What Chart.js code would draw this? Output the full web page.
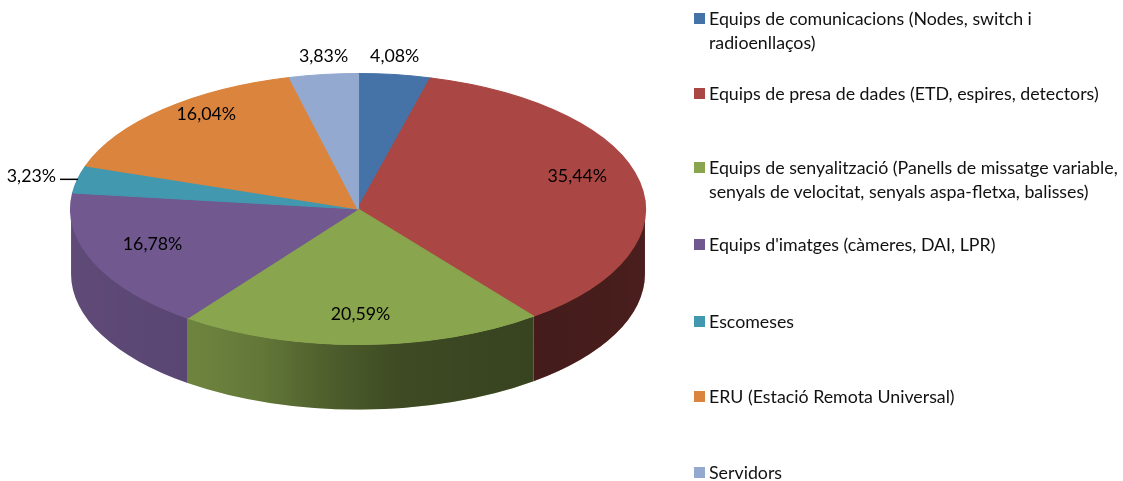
<!DOCTYPE html>
<html>
<head>
<meta charset="utf-8">
<script src="https://cdn.jsdelivr.net/npm/chart.js@4.4.1/dist/chart.umd.min.js"></script>
<style>
  html, body { margin: 0; padding: 0; background: #fff; }
  #wrap { position: relative; width: 1123px; height: 481px; overflow: hidden; }
  #legend { position: absolute; left: 0; top: 0; font-family: Lato, "Open Sans", sans-serif; font-size: 17.8px; color: #111; }
  .item { position: absolute; left: 694px; line-height: 24px; white-space: nowrap; }
  .sw { position: absolute; left: 0; top: 7px; width: 11px; height: 11px; }
  .txt { margin-left: 15px; }
</style>
</head>
<body>
<div id="wrap">
  <canvas id="pie" width="1123" height="481"></canvas>
  <div id="legend"></div>
</div>
<script>
// Categories of equipment (each entry is the list of legend lines)
const categories = [
  ['Equips de comunicacions (Nodes, switch i', 'radioenllaços)'],
  ['Equips de presa de dades (ETD, espires, detectors)'],
  ['Equips de senyalització (Panells de missatge variable,', 'senyals de velocitat, senyals aspa-fletxa, balisses)'],
  ["Equips d'imatges (càmeres, DAI, LPR)"],
  ['Escomeses'],
  ['ERU (Estació Remota Universal)'],
  ['Servidors']
];

// Share of each category, in percent
const shares = [4.08, 35.44, 20.59, 16.78, 3.23, 16.04, 3.83];

// Slice colours
const sliceColors = ['#4572A7', '#AA4643', '#89A54E', '#71588F', '#4198AF', '#DB843D', '#93A9CF'];

// Vertical placement of the legend entries
const legendTops = [6, 81, 155, 232, 309, 384, 460];

const TILT = 288 / 136;   // horizontal stretch of the tilted disc
const DEPTH = 65;         // thickness of the disc
const LABEL_FONT = '17.8px Lato, "Open Sans", sans-serif';

const fmtPct = v => v.toFixed(2).replace('.', ',') + '%';

// Draws the disc as a tilted 3D pie: side walls first, then the
// library's arcs under a horizontal stretch, then percentage labels.
const tiltedPie = {
  id: 'tiltedPie',
  beforeDatasetsDraw(chart) {
    const ctx = chart.ctx;
    const arcs = chart.getDatasetMeta(0).data;
    const cx = arcs[0].x, cy = arcs[0].y, ry = arcs[0].outerRadius;
    const rx = ry * TILT;

    const shadeGrad = ctx.createLinearGradient(cx - rx, 0, cx + rx, 0);
    shadeGrad.addColorStop(0.00, 'rgba(0,0,0,0.16)');
    shadeGrad.addColorStop(0.23, 'rgba(0,0,0,0.21)');
    shadeGrad.addColorStop(0.33, 'rgba(0,0,0,0.28)');
    shadeGrad.addColorStop(0.45, 'rgba(0,0,0,0.43)');
    shadeGrad.addColorStop(0.57, 'rgba(0,0,0,0.55)');
    shadeGrad.addColorStop(0.83, 'rgba(0,0,0,0.60)');
    shadeGrad.addColorStop(1.00, 'rgba(0,0,0,0.57)');

    arcs.forEach((arc, i) => {
      const a0 = Math.max(arc.startAngle, 0);
      const a1 = Math.min(arc.endAngle, Math.PI);
      if (a1 <= a0) return;
      ctx.beginPath();
      ctx.ellipse(cx, cy, rx, ry, 0, a0, a1, false);
      ctx.ellipse(cx, cy + DEPTH, rx, ry, 0, a1, a0, true);
      ctx.closePath();
      ctx.fillStyle = sliceColors[i];
      ctx.fill();
      ctx.fillStyle = shadeGrad;
      ctx.fill();
    });

    ctx.save();
    ctx.translate(cx, cy);
    ctx.scale(TILT, 1);
    ctx.translate(-cx, -cy);
  },
  afterDatasetsDraw(chart) {
    const ctx = chart.ctx;
    ctx.restore();

    const arcs = chart.getDatasetMeta(0).data;
    const cx = arcs[0].x, cy = arcs[0].y, ry = arcs[0].outerRadius;
    const rx = ry * TILT;

    ctx.save();
    ctx.font = LABEL_FONT;
    ctx.fillStyle = '#000';
    ctx.strokeStyle = '#000';
    ctx.textBaseline = 'middle';
    arcs.forEach((arc, i) => {
      const mid = (arc.startAngle + arc.endAngle) / 2;
      const c = Math.cos(mid), s = Math.sin(mid);
      const text = fmtPct(shares[i]);
      if (shares[i] >= 5) {
        ctx.textAlign = 'center';
        ctx.fillText(text, cx + rx * 0.78 * c, cy + ry * 0.85 * s - 10);
        return;
      }
      const ex = cx + rx * c, ey = cy + ry * s;
      if (Math.abs(s) > 0.9) {
        ctx.textAlign = 'center';
        ctx.fillText(text, ex, ey - 18);
      } else {
        const dir = c < 0 ? -1 : 1;
        const lx = ex + dir * 18;
        ctx.beginPath();
        ctx.lineWidth = 1.5;
        ctx.moveTo(ex, ey);
        ctx.lineTo(lx, ey);
        ctx.stroke();
        ctx.textAlign = dir < 0 ? 'right' : 'left';
        ctx.fillText(text, lx + dir * 4, ey - 3);
      }
    });
    ctx.restore();
  }
};

const chart = new Chart(document.getElementById('pie'), {
  type: 'pie',
  data: {
    labels: categories,
    datasets: [{
      data: shares,
      backgroundColor: sliceColors,
      borderColor: sliceColors,
      borderWidth: 1,
      clip: false
    }]
  },
  options: {
    responsive: false,
    animation: false,
    layout: { padding: { left: 222, right: 629, top: 73, bottom: 136 } },
    plugins: { legend: { display: false }, tooltip: { enabled: false } }
  },
  plugins: [tiltedPie]
});

// Legend built from the chart's own labels and colours
const legendEl = document.getElementById('legend');
chart.data.labels.forEach((lines, i) => {
  const item = document.createElement('div');
  item.className = 'item';
  item.style.top = legendTops[i] + 'px';
  const sw = document.createElement('span');
  sw.className = 'sw';
  sw.style.background = chart.data.datasets[0].backgroundColor[i];
  const txt = document.createElement('div');
  txt.className = 'txt';
  lines.forEach((line, k) => {
    if (k) txt.appendChild(document.createElement('br'));
    txt.appendChild(document.createTextNode(line));
  });
  item.appendChild(sw);
  item.appendChild(txt);
  legendEl.appendChild(item);
});
</script>
</body>
</html>
